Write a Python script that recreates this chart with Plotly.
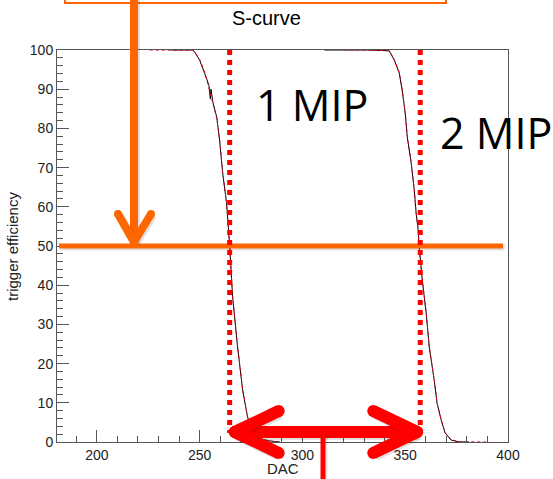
import plotly.graph_objects as go

# ---------------- data ----------------
# 1 MIP S-curve (measured, black) and its fit (red dotted)
dac1_meas = [236.0, 242.7, 246.6, 247.6, 250.0, 252.4, 254.5, 255.2, 255.5, 256.5, 258.3, 259.7,
             261.2, 263.1, 264.1, 264.6, 266.0, 268.4, 270.9, 273.3, 275.2, 277.7, 284.0, 288.8]
eff1_meas = [100.0, 100.0, 100.0, 99.5, 97.4, 94.1, 91.0, 87.5, 90.0, 86.5, 82.9, 77.0,
             68.6, 60.9, 54.8, 50.0, 37.2, 24.5, 13.3, 6.4, 3.1, 1.0, 0.3, 0.0]
dac1_fit = [225.7, 242.7, 246.6, 247.6, 250.0, 252.4, 255.0, 258.3, 259.7, 261.2, 263.1, 264.1,
            264.6, 266.0, 268.4, 270.9, 273.3, 275.2, 277.7, 284.0, 289.0]
eff1_fit = [100.0, 100.0, 99.9, 99.4, 97.6, 94.5, 89.5, 82.6, 77.0, 68.8, 61.0, 54.9,
            50.0, 37.4, 24.6, 13.5, 6.5, 3.2, 1.1, 0.2, 0.0]

# 2 MIP S-curve
dac2_meas = [310.7, 320.4, 331.1, 342.2, 344.7, 347.1, 348.5, 350.0, 351.0, 352.9, 354.4, 355.3,
             356.3, 356.8, 358.3, 360.2, 361.7, 364.1, 365.5, 367.5, 369.4, 372.3, 376.2, 381.0]
eff2_meas = [100.0, 100.0, 100.0, 99.8, 97.4, 94.1, 89.8, 83.9, 77.8, 71.2, 64.3, 58.4,
             54.1, 49.7, 41.3, 32.9, 24.2, 15.8, 9.9, 5.6, 2.3, 0.5, 0.0, 0.0]
dac2_fit = [320.4, 331.1, 342.2, 344.7, 347.1, 348.5, 350.0, 351.0, 352.9, 354.4, 355.3,
            356.3, 356.8, 358.3, 360.2, 361.7, 364.1, 365.5, 367.5, 369.4, 372.3, 376.2, 389.3]
eff2_fit = [100.0, 100.0, 99.8, 97.6, 94.3, 90.0, 84.0, 78.0, 71.3, 64.4, 58.5,
            54.2, 49.8, 41.4, 33.0, 24.3, 15.9, 10.0, 5.7, 2.4, 0.6, 0.1, 0.0]

# thresholds (50% points)
thr_1mip = 264.6
thr_2mip = 357.3
half_eff = 50

x_ticks = [200, 250, 300, 350, 400]
y_ticks = [0, 10, 20, 30, 40, 50, 60, 70, 80, 90, 100]

# ---------------- layout geometry ----------------
W, H = 553, 479
L, R, T, B = 57, 45, 50, 37
XMIN, XMAX = 180.6, 400.0
YMIN, YMAX = 0.0, 100.0
PW, PH = W - L - R, H - T - B


def px_x(px):
    return (px - L) / PW


def px_y(py):
    return (H - B - py) / PH


def dx(d):
    return (d - XMIN) / (XMAX - XMIN)


def dy(v):
    return (v - YMIN) / (YMAX - YMIN)


fig = go.Figure()

fig.add_trace(go.Scatter(x=dac1_meas, y=eff1_meas, mode="lines",
                         line=dict(color="black", width=1), showlegend=False, hoverinfo="skip"))
fig.add_trace(go.Scatter(x=dac2_meas, y=eff2_meas, mode="lines",
                         line=dict(color="black", width=1), showlegend=False, hoverinfo="skip"))
fig.add_trace(go.Scatter(x=dac1_fit, y=eff1_fit, mode="lines",
                         line=dict(color="#e8001c", width=1, dash="dot"), showlegend=False, hoverinfo="skip"))
fig.add_trace(go.Scatter(x=dac2_fit, y=eff2_fit, mode="lines",
                         line=dict(color="#e8001c", width=1, dash="dot"), showlegend=False, hoverinfo="skip"))

ORANGE = "#FF6600"
RED = "#FF0000"
shapes = []


def cap(x, y, color, width):
    rx, ry = width / 2 / PW, width / 2 / PH
    shapes.append(dict(type="circle", xref="paper", yref="paper",
                       x0=x - rx, x1=x + rx, y0=y - ry, y1=y + ry,
                       fillcolor=color, line=dict(width=0)))


def seg(x0, y0, x1, y1, color, width, dash="solid", shadow=True, caps=False):
    if shadow:
        shapes.append(dict(type="line", xref="paper", yref="paper",
                           x0=x0 + 1.5 / PW, y0=y0 - 1.5 / PH, x1=x1 + 1.5 / PW, y1=y1 - 1.5 / PH,
                           line=dict(color="rgba(0,0,0,0.12)", width=width + 1, dash=dash)))
    shapes.append(dict(type="line", xref="paper", yref="paper",
                       x0=x0, y0=y0, x1=x1, y1=y1,
                       line=dict(color=color, width=width, dash=dash)))
    if caps:
        cap(x0, y0, color, width)
        cap(x1, y1, color, width)


# orange box at top (partially off-page)
shapes.append(dict(type="rect", xref="paper", yref="paper",
                   x0=px_x(65), x1=px_x(446), y0=px_y(3), y1=px_y(-20),
                   line=dict(color=ORANGE, width=2)))

# horizontal 50% orange line
seg(px_x(59), dy(half_eff), px_x(503), dy(half_eff), ORANGE, 5)

# orange vertical arrow
ax = px_x(134)
tip = dy(half_eff) + 4 / PH
seg(ax, px_y(-2), ax, tip, ORANGE, 8)
seg(px_x(118), px_y(214), ax, tip, ORANGE, 8, caps=True)
seg(px_x(151), px_y(214), ax, tip, ORANGE, 8, caps=True)

# red dotted threshold lines
for t in (thr_1mip, thr_2mip):
    seg(dx(t), dy(100), dx(t), px_y(433), RED, 5, dash="dot", shadow=False)

# red double arrow
ay = px_y(432)
x1 = dx(thr_1mip) + 5 / PW
x2 = dx(thr_2mip) - 3 / PW
seg(x1, ay, x2, ay, RED, 12)
seg(x1, ay, x1 + 44 / PW, ay + 21 / PH, RED, 12, caps=True)
seg(x1, ay, x1 + 44 / PW, ay - 21 / PH, RED, 12, caps=True)
seg(x2, ay, x2 - 44 / PW, ay + 21 / PH, RED, 12, caps=True)
seg(x2, ay, x2 - 44 / PW, ay - 21 / PH, RED, 12, caps=True)
# red stem below
seg(px_x(323), ay, px_x(323), px_y(485), RED, 5)

annotations = [
    dict(text="S-curve", xref="paper", yref="paper", x=px_x(266), y=px_y(18),
         showarrow=False, font=dict(family="Liberation Sans", size=20, color="black"),
         xanchor="center", yanchor="middle"),
    dict(text="1 MIP", xref="paper", yref="paper", x=px_x(312), y=px_y(104),
         showarrow=False, font=dict(family="Open Sans", size=43, color="black"),
         xanchor="center", yanchor="middle"),
    dict(text="2 MIP", xref="paper", yref="paper", x=px_x(496), y=px_y(132),
         showarrow=False, font=dict(family="Open Sans", size=43, color="black"),
         xanchor="center", yanchor="middle"),
    dict(text="trigger efficiency", xref="paper", yref="paper", x=px_x(12), y=px_y(247),
         showarrow=False, textangle=-90, font=dict(family="Liberation Sans", size=15, color="#222"),
         xanchor="center", yanchor="middle"),
    dict(text="DAC", xref="paper", yref="paper", x=px_x(283), y=px_y(469),
         showarrow=False, font=dict(family="Liberation Sans", size=15, color="#222"),
         xanchor="center", yanchor="middle"),
]

axis_common = dict(showgrid=False, zeroline=False, showline=True, linecolor="#555", linewidth=1,
                   mirror=True, ticks="inside", tickcolor="#555",
                   tickfont=dict(family="Liberation Sans", size=14, color="#222"))

fig.update_layout(
    width=W, height=H,
    margin=dict(l=L, r=R, t=T, b=B, pad=0),
    paper_bgcolor="white", plot_bgcolor="white",
    xaxis=dict(range=[XMIN, XMAX], tickvals=x_ticks, ticklen=12,
               minor=dict(ticks="inside", ticklen=6, dtick=10, tick0=200, tickcolor="#555", showgrid=False),
               **axis_common),
    yaxis=dict(range=[YMIN, YMAX], tickvals=y_ticks, ticklen=12,
               minor=dict(ticks="inside", ticklen=6, dtick=2, tick0=0, tickcolor="#555", showgrid=False),
               **axis_common),
    shapes=shapes,
    annotations=annotations,
)

fig.write_html("out.html")
